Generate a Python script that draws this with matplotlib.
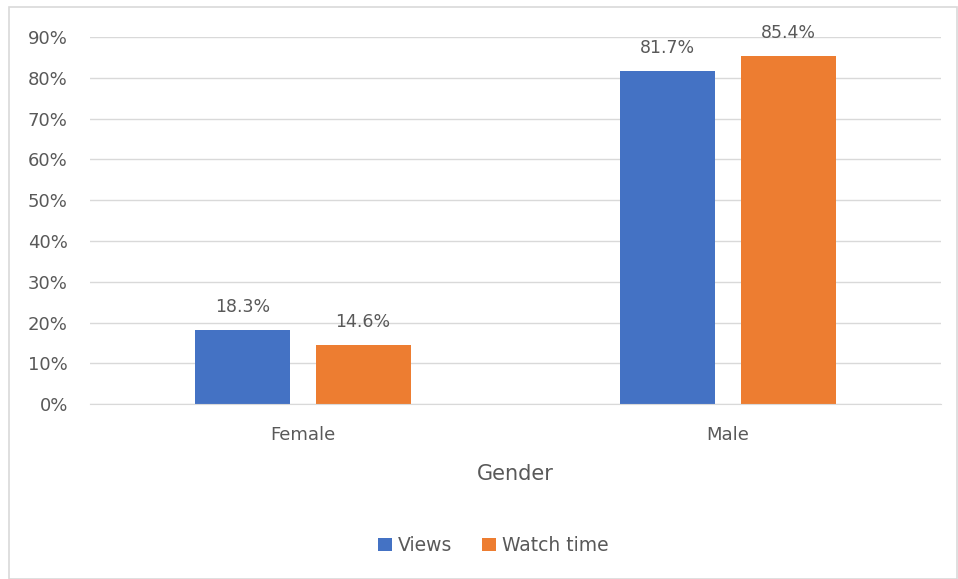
import matplotlib.pyplot as plt
import numpy as np
from matplotlib.patches import Rectangle

# Share of views and watch time by gender
genders = ["Female", "Male"]
views = [18.3, 81.7]
watch_time = [14.6, 85.4]
series_names = ["Views", "Watch time"]

blue = "#4472C4"
orange = "#ED7D31"
text_grey = "#595959"
grid_grey = "#D9D9D9"

plt.rcParams['font.family'] = ['DejaVu Sans']

fig = plt.figure(figsize=(9.58, 5.79), dpi=100)
ax = fig.add_axes([0.094, 0.302, 0.888, 0.634])

# light border round the whole chart
fig.patches.append(Rectangle((0.009, 0.0), 0.99, 0.988, transform=fig.transFigure,
                             fill=False, edgecolor=grid_grey, linewidth=1.2))

x = np.arange(len(genders))
width = 0.223
offset = 0.142

bars1 = ax.bar(x - offset, views, width, color=blue, label=series_names[0], zorder=3)
bars2 = ax.bar(x + offset, watch_time, width, color=orange, label=series_names[1], zorder=3)

for bars, vals in [(bars1, views), (bars2, watch_time)]:
    for b, v in zip(bars, vals):
        ax.annotate(f"{v:.1f}%", (b.get_x() + b.get_width() / 2, v),
                    xytext=(0, 10), textcoords="offset points",
                    ha="center", va="bottom", fontsize=12.5, color=text_grey)

ax.set_xlim(-0.5, 1.5)
ax.set_ylim(0, 90)
ax.set_yticks(np.arange(0, 91, 10))
ax.set_yticklabels([f"{t}%" for t in range(0, 91, 10)])
ax.set_xticks(x)
ax.set_xticklabels(genders)
ax.tick_params(axis="both", length=0, labelsize=13, colors=text_grey)
ax.tick_params(axis="y", pad=16)
ax.tick_params(axis="x", pad=16)

ax.yaxis.grid(True, color=grid_grey, linewidth=1, zorder=0)
for s in ["top", "right", "left"]:
    ax.spines[s].set_visible(False)
ax.spines["bottom"].set_color(grid_grey)
ax.spines["bottom"].set_zorder(4)

ax.set_xlabel("Gender", fontsize=15, color=text_grey, labelpad=14)

fig.legend(loc="center", bbox_to_anchor=(0.515, 0.058), ncol=2, frameon=False,
           fontsize=13.5, labelcolor=text_grey, handlelength=0.75, handleheight=0.75,
           handletextpad=0.3, columnspacing=1.6)

plt.savefig("out.png", dpi=100)
